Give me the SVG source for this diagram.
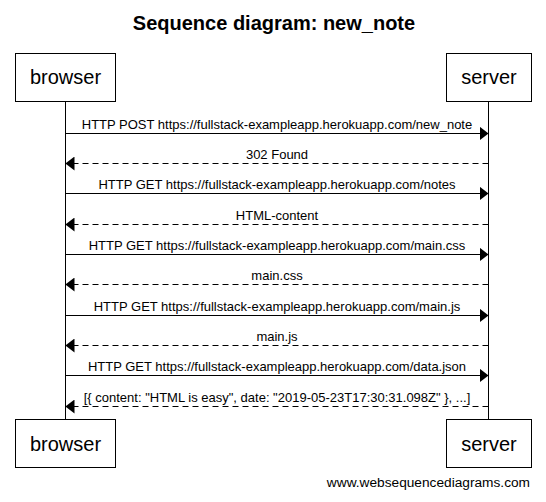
<svg xmlns="http://www.w3.org/2000/svg" width="546" height="502" viewBox="0 0 546 502">
<style>
  text { font-family: "Liberation Sans", Arial, sans-serif; fill: #000; }
  .title { font-size: 20px; font-weight: bold; text-anchor: middle; }
  .actor rect { fill: #fff; stroke: #000; stroke-width: 1; }
  .actor text { font-size: 20px; text-anchor: middle; }
  .life { stroke: #000; stroke-width: 1; fill: none; }
  .msg { stroke: #000; stroke-width: 1; fill: none; }
  .ret { stroke: #000; stroke-width: 1; fill: none; stroke-dasharray: 6 4; }
  .lbl { font-size: 13px; text-anchor: middle; }
  .foot { font-size: 13.7px; text-anchor: end; }
</style>
<defs>
  <marker id="ah" viewBox="0 0 9 14" refX="9" refY="7" markerWidth="9" markerHeight="14" markerUnits="userSpaceOnUse" orient="auto">
    <path d="M0,0 L9,7 L0,14 Z" fill="#000"/>
  </marker>
</defs>
<rect width="546" height="502" fill="#fff"/>
<text class="title" x="274" y="30">Sequence diagram: new_note</text>

<g id="lifelines">
  <line class="life" x1="65.5" y1="101" x2="65.5" y2="420"/>
  <line class="life" x1="488.5" y1="101" x2="488.5" y2="420"/>
</g>

<g id="browser-top" class="actor">
  <rect x="15.5" y="53.5" width="100" height="48"/>
  <text x="65.5" y="84">browser</text>
</g>
<g id="server-top" class="actor">
  <rect x="446.5" y="53.5" width="85" height="48"/>
  <text x="489" y="84">server</text>
</g>
<g id="browser-bottom" class="actor">
  <rect x="15.5" y="419.5" width="100" height="48"/>
  <text x="65.5" y="451">browser</text>
</g>
<g id="server-bottom" class="actor">
  <rect x="446.5" y="419.5" width="85" height="48"/>
  <text x="489" y="451">server</text>
</g>

<g id="connectors">
  <line class="msg" x1="65.5" y1="133.5" x2="488.5" y2="133.5" marker-end="url(#ah)"/>
  <text class="lbl" x="277" y="128.5">HTTP POST https://fullstack-exampleapp.herokuapp.com/new_note</text>

  <line class="ret" x1="488.5" y1="163.5" x2="65.5" y2="163.5" marker-end="url(#ah)"/>
  <text class="lbl" x="277" y="158.5">302 Found</text>

  <line class="msg" x1="65.5" y1="193.5" x2="488.5" y2="193.5" marker-end="url(#ah)"/>
  <text class="lbl" x="277" y="188.5">HTTP GET https://fullstack-exampleapp.herokuapp.com/notes</text>

  <line class="ret" x1="488.5" y1="224.5" x2="65.5" y2="224.5" marker-end="url(#ah)"/>
  <text class="lbl" x="277" y="219.5">HTML-content</text>

  <line class="msg" x1="65.5" y1="254.5" x2="488.5" y2="254.5" marker-end="url(#ah)"/>
  <text class="lbl" x="277" y="249.5">HTTP GET https://fullstack-exampleapp.herokuapp.com/main.css</text>

  <line class="ret" x1="488.5" y1="284.5" x2="65.5" y2="284.5" marker-end="url(#ah)"/>
  <text class="lbl" x="277" y="279.5">main.css</text>

  <line class="msg" x1="65.5" y1="315.5" x2="488.5" y2="315.5" marker-end="url(#ah)"/>
  <text class="lbl" x="277" y="310.5">HTTP GET https://fullstack-exampleapp.herokuapp.com/main.js</text>

  <line class="ret" x1="488.5" y1="345.5" x2="65.5" y2="345.5" marker-end="url(#ah)"/>
  <text class="lbl" x="277" y="340.5">main.js</text>

  <line class="msg" x1="65.5" y1="375.5" x2="488.5" y2="375.5" marker-end="url(#ah)"/>
  <text class="lbl" x="277" y="370.5">HTTP GET https://fullstack-exampleapp.herokuapp.com/data.json</text>

  <line class="ret" x1="488.5" y1="406.5" x2="65.5" y2="406.5" marker-end="url(#ah)"/>
  <text class="lbl" x="277" y="401.5">[{ content: "HTML is easy", date: "2019-05-23T17:30:31.098Z" }, ...]</text>
</g>

<text class="foot" x="530" y="487">www.websequencediagrams.com</text>
</svg>
